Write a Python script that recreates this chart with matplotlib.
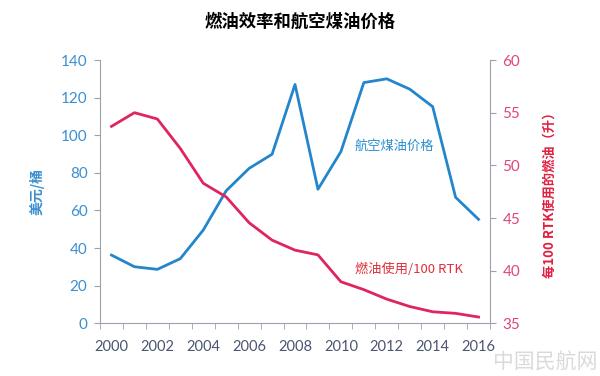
import numpy as np
import matplotlib.pyplot as plt
from matplotlib.ticker import MultipleLocator, FixedLocator

plt.rcParams['font.family'] = ['Noto Sans CJK SC', 'DejaVu Sans']

# data
years = np.arange(2000, 2017)
jet_fuel_price = [36.3, 30.1, 28.7, 34.4, 49.6, 70.5, 82.4, 89.9, 127.0, 71.3,
                  91.3, 128.0, 130.0, 124.5, 115.2, 67.0, 55.3]
fuel_per_100rtk = [53.7, 55.0, 54.4, 51.6, 48.3, 47.0, 44.55, 42.9, 41.95, 41.5,
                   38.95, 38.2, 37.3, 36.6, 36.1, 35.95, 35.6]

blue = '#2386cc'
red = '#e0245e'
axis_gray = '#9aa3ae'

fig = plt.figure(figsize=(6, 3.76), dpi=100)
ax = fig.add_axes([0.1667, 0.140, 0.65, 0.7004])
ax2 = ax.twinx()

ax.plot(years, jet_fuel_price, color=blue, lw=2.0, zorder=3)
ax2.plot(years, fuel_per_100rtk, color=red, lw=2.0, zorder=3)

ax.set_xlim(1999.5, 2016.5)
ax.set_ylim(0, 140)
ax2.set_ylim(35, 60)
ax.yaxis.set_major_locator(MultipleLocator(20))
ax2.yaxis.set_major_locator(MultipleLocator(5))

# year labels every two years, tick marks at category boundaries
ax.xaxis.set_major_locator(FixedLocator(np.arange(2000, 2017, 2)))
ax.xaxis.set_minor_locator(FixedLocator(np.arange(1999.5, 2017, 1)))
ax.tick_params(axis='x', which='major', length=0, pad=12, labelsize=10.5,
               labelcolor='#4b5570')
ax.tick_params(axis='x', which='minor', length=4, color=axis_gray)
ax.tick_params(axis='y', length=4, color=axis_gray, labelsize=11,
               labelcolor='#3a8fd0', pad=5)
ax2.tick_params(axis='y', length=4, color=axis_gray, labelsize=11,
                labelcolor='#e0457a', pad=5)

for a in (ax, ax2):
    a.spines['top'].set_visible(False)
    for s in ('left', 'right', 'bottom'):
        a.spines[s].set_color(axis_gray)
ax.spines['right'].set_visible(False)
ax2.spines['left'].set_visible(False)
ax2.spines['bottom'].set_visible(False)

for lab in ax.get_xticklabels() + ax.get_yticklabels() + ax2.get_yticklabels():
    lab.set_family(['Lato', 'DejaVu Sans'])

ax.set_ylabel('美元/桶', color='#3a8fd0', fontsize=10, fontweight='bold', labelpad=12)
ax2.set_ylabel('每100 RTK使用的燃油（升）', color='#e02040', fontsize=9.5,
               fontweight='bold', labelpad=16)

ax.text(2010.6, 94, '航空煤油价格', color='#2a8fd0', fontsize=9.5, va='center')
ax2.text(2010.6, 40.1, '燃油使用/100 RTK', color='#e0303a', fontsize=9.5, va='center',
         family=['Noto Sans CJK SC', 'DejaVu Serif'])

fig.suptitle('燃油效率和航空煤油价格', y=0.965, fontsize=12.5, fontweight='bold')

fig.text(0.995, 0.005, '中国民航网', color='#dadada', fontsize=15, ha='right', va='bottom')

fig.savefig('out.png', dpi=100)
